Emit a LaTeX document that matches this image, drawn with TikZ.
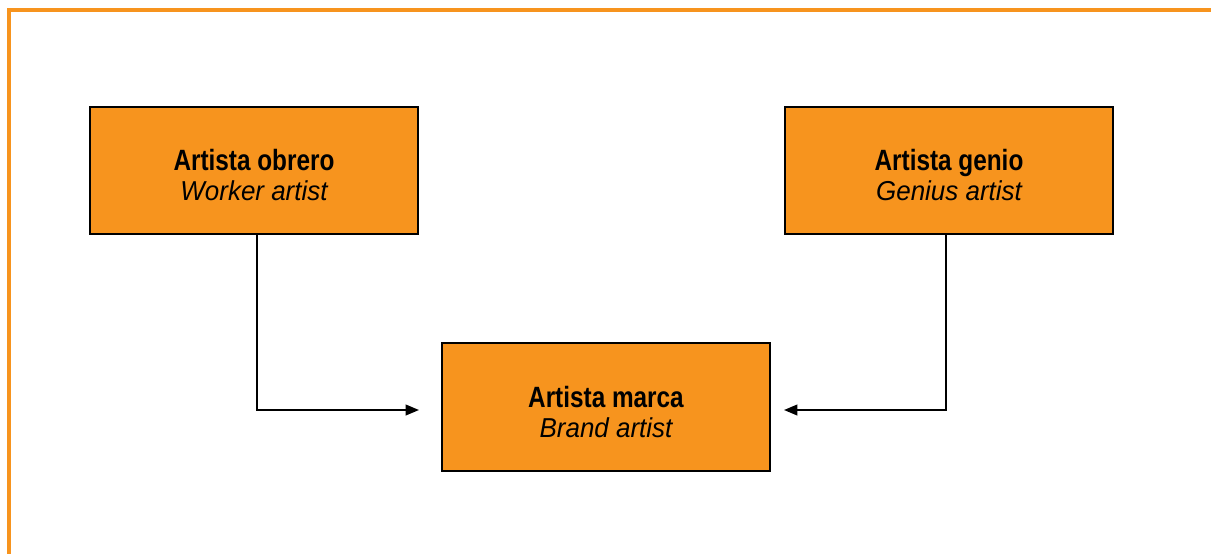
\documentclass[tikz,border=0pt]{standalone}
\usepackage{fontspec}
\setmainfont{Liberation Sans}
\newfontfamily\headfont[FakeStretch=0.83]{Liberation Sans}
\newfontfamily\subfont[FakeStretch=0.95]{Liberation Sans}
\usetikzlibrary{arrows.meta,calc}
\definecolor{brandorange}{HTML}{F7941E}
\newcommand{\boxtext}[2]{%
  {\headfont\bfseries\fontsize{22}{22.5}\selectfont #1}\\%
  {\subfont\itshape\fontsize{20.5}{22.5}\selectfont #2}}
\begin{document}
\begin{tikzpicture}[x=0.75pt,y=-0.75pt,
  box/.style={draw=black,line width=1.5pt,fill=brandorange,
    minimum width=246pt,minimum height=95.5pt,inner sep=0pt},
  label text/.style={align=center,inner sep=0pt,
    font=\fontsize{21}{22.5}\selectfont},
  link/.style={draw=black,line width=1.4pt,
    -{Triangle[length=10pt,width=8pt]}}]
  \useasboundingbox (0,0) rectangle (1211,554);
  % page frame
  \draw[brandorange,line width=2.4pt] (1211,10) -- (9,10) -- (9,554);
  % boxes
  \node[box] (worker) at (254,170.5) {};
  \node[box] (genius) at (949,170.5) {};
  \node[box] (brand)  at (606,407)   {};
  % box captions
  \node[label text] (workertext) at ($(worker)+(0,5)$) {\boxtext{Artista obrero}{Worker artist}};
  \node[label text] (geniustext) at ($(genius)+(0,5)$) {\boxtext{Artista genio}{Genius artist}};
  \node[label text] (brandtext)  at ($(brand)+(0,5)$)  {\boxtext{Artista marca}{Brand artist}};
  % connectors
  \draw[link] ($(worker.south)+(3,0)$) |- ($(brand.west)+(-22,3)$);
  \draw[link] ($(genius.south)+(-3,0)$) |- ($(brand.east)+(13,3)$);
\end{tikzpicture}
\end{document}
